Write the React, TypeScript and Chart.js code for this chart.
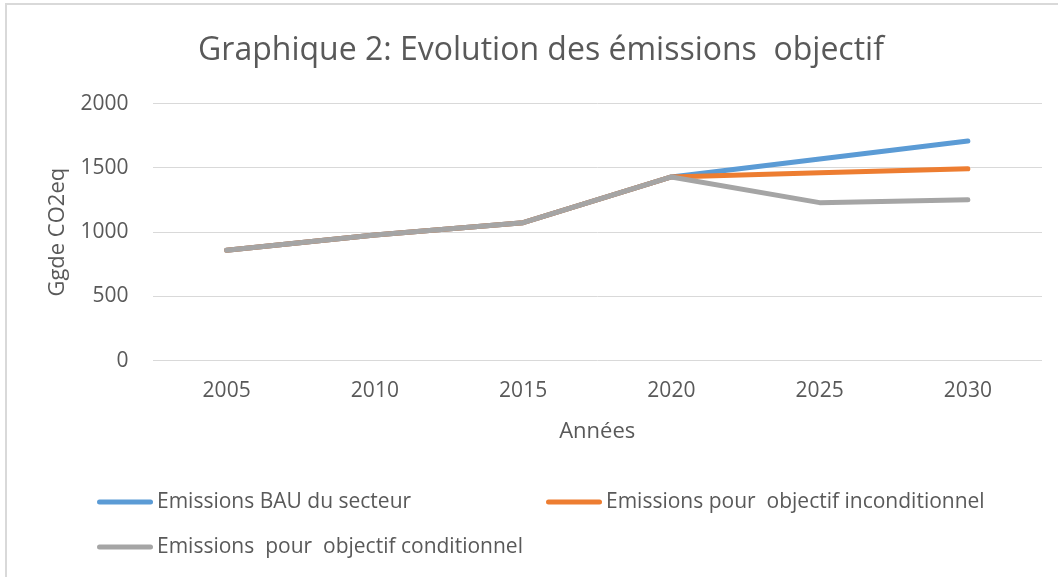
import React, { useEffect, useRef } from "react";
import { Chart, registerables } from "chart.js";

Chart.register(...registerables);

const years = ["2005", "2010", "2015", "2020", "2025", "2030"];
const bauValues = [859, 978, 1074, 1430, 1570, 1710];
const uncondValues = [859, 978, 1074, 1430, 1463, 1494];
const condValues = [859, 978, 1074, 1430, 1230, 1253];
const seriesNames = [
  "Emissions BAU du secteur",
  "Emissions pour  objectif inconditionnel",
  "Emissions  pour  objectif conditionnel",
];
const seriesColors = ["#5B9BD5", "#ED7D31", "#A5A5A5"];
const yTicks = [0, 500, 1000, 1500, 2000];

const FONT = "'Open Sans', 'DejaVu Sans', sans-serif";
const TEXT = "#595959";

const frameAndLegend = {
  id: "frameAndLegend",
  beforeDraw(chart: any) {
    const ctx = chart.ctx;
    ctx.save();
    ctx.fillStyle = "#ffffff";
    ctx.fillRect(0, 0, chart.width, chart.height);
    ctx.strokeStyle = "#D9D9D9";
    ctx.lineWidth = 2;
    ctx.beginPath();
    ctx.moveTo(6, chart.height);
    ctx.lineTo(6, 4);
    ctx.lineTo(chart.width, 4);
    ctx.stroke();
    ctx.restore();
  },
  afterDraw(chart: any) {
    const ctx = chart.ctx;
    const cols = [97, 546];
    const rows = [502, 547];
    const lineLen = 56;
    ctx.save();
    ctx.font = `21px ${FONT}`;
    ctx.textBaseline = "middle";
    ctx.textAlign = "left";
    seriesNames.forEach((name, i) => {
      const x = cols[i % 2];
      const y = rows[Math.floor(i / 2)];
      ctx.strokeStyle = seriesColors[i];
      ctx.lineWidth = 5;
      ctx.lineCap = "round";
      ctx.beginPath();
      ctx.moveTo(x + 2.5, y);
      ctx.lineTo(x + lineLen - 2.5, y);
      ctx.stroke();
      ctx.fillStyle = TEXT;
      ctx.fillText(name, x + lineLen + 4, y);
    });
    ctx.restore();
  },
};

export default function App() {
  const ref = useRef<HTMLCanvasElement | null>(null);

  useEffect(() => {
    document.body.style.margin = "0";
    const canvas = ref.current;
    if (!canvas) return;
    const mk = (i: number, data: number[], order: number) => ({
      label: seriesNames[i],
      data,
      borderColor: seriesColors[i],
      backgroundColor: seriesColors[i],
      borderWidth: 5,
      borderCapStyle: "round" as const,
      borderJoinStyle: "round" as const,
      pointRadius: 0,
      pointHoverRadius: 0,
      tension: 0,
      fill: false,
      order,
    });
    const chart = new Chart(canvas, {
      type: "line",
      data: {
        labels: years,
        datasets: [
          mk(0, bauValues, 2),
          mk(1, uncondValues, 1),
          mk(2, condValues, 0),
        ],
      },
      plugins: [frameAndLegend],
      options: {
        responsive: false,
        animation: false,
        layout: { padding: { left: 40, right: 16, top: 0, bottom: 120 } },
        plugins: {
          legend: { display: false },
          tooltip: { enabled: false },
          title: {
            display: true,
            text: "Graphique 2: Evolution des émissions  objectif",
            color: TEXT,
            font: { family: FONT, size: 32, weight: "normal" as any, lineHeight: 1.2 },
            padding: { top: 32, bottom: 33.3 },
          },
        },
        scales: {
          x: {
            offset: true,
            grid: { display: false, drawTicks: false },
            border: { display: false },
            ticks: {
              color: TEXT,
              font: { family: FONT, size: 21 },
              padding: 18,
              maxRotation: 0,
            },
            title: {
              display: true,
              text: "Années",
              color: TEXT,
              font: { family: FONT, size: 22, lineHeight: 1.2 },
              padding: { top: 0, bottom: 12 },
            },
            afterFit: (s: any) => {
              s.height = 96.3;
            },
          },
          y: {
            min: 0,
            max: 2000,
            afterBuildTicks: (s: any) => {
              s.ticks = yTicks.map((v) => ({ value: v }));
            },
            grid: { color: "#D9D9D9", lineWidth: 1, drawTicks: false },
            border: { display: false },
            ticks: {
              color: TEXT,
              font: { family: FONT, size: 21 },
              padding: 24,
              callback: (v: any) => String(v),
            },
            title: {
              display: true,
              text: "Ggde CO2eq",
              color: TEXT,
              font: { family: FONT, size: 22, lineHeight: 1.2 },
              padding: { top: 5, bottom: 0 },
            },
            afterFit: (s: any) => {
              s.width = 112.5;
            },
          },
        },
      },
    });
    return () => chart.destroy();
  }, []);

  return (
    <div style={{ position: "absolute", left: 0, top: 0, width: 1058, height: 577 }}>
      <canvas ref={ref} width={1058} height={577} style={{ display: "block" }} />
    </div>
  );
}
